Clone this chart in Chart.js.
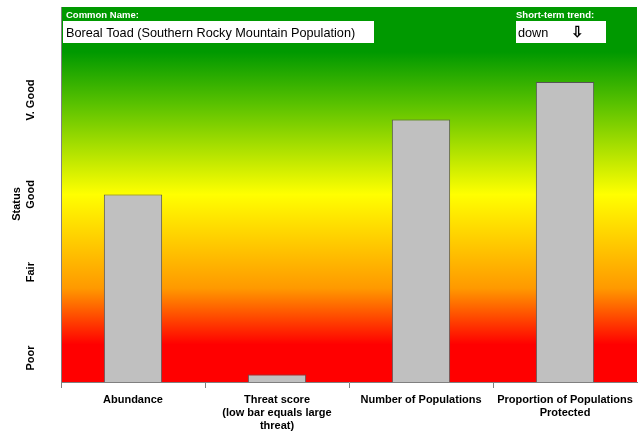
<!DOCTYPE html>
<html><head><meta charset="utf-8">
<script src="https://cdn.jsdelivr.net/npm/chart.js@4/dist/chart.umd.min.js"></script>
<style>html,body{margin:0;padding:0;background:#fff;}#wrap{width:643px;height:433px;}</style>
</head><body><div id="wrap"><canvas id="c" width="643" height="433"></canvas></div>
<script>
const categories = [["Abundance"], ["Threat score", "(low bar equals large", "threat)"], ["Number of Populations"], ["Proportion of Populations", "Protected"]];
const statusValues = [50, 2, 70, 80];
const statusTickValues = [6.4, 29.3, 50, 75.2];
const statusTickLabels = ["Poor", "Fair", "Good", "V. Good"];
const commonName = "Boreal Toad (Southern Rocky Mountain Population)";
const trendText = "down";
const trendArrow = "\u21E9";

const FONT = "'Liberation Sans', Arial, sans-serif";

const decor = {
  id: 'decor',
  beforeDraw(chart) {
    const {ctx, chartArea: a} = chart;
    const g = ctx.createLinearGradient(0, a.top, 0, a.bottom);
    g.addColorStop(0, '#009900');
    g.addColorStop(0.12, '#009900');
    g.addColorStop(0.26, '#5ac200');
    g.addColorStop(0.50, '#ffff00');
    g.addColorStop(0.75, '#ff9900');
    g.addColorStop(0.90, '#ff0000');
    g.addColorStop(1, '#ff0000');
    ctx.save();
    ctx.fillStyle = g;
    ctx.fillRect(a.left, a.top, a.right - a.left, a.bottom - a.top);
    ctx.restore();
  },
  afterDraw(chart) {
    const {ctx, chartArea: a} = chart;
    const y = chart.scales.y;
    ctx.save();
    ctx.strokeStyle = '#808080';
    ctx.lineWidth = 1;
    ctx.beginPath();
    ctx.moveTo(a.left + 0.5, a.top);
    ctx.lineTo(a.left + 0.5, a.bottom + 5);
    ctx.stroke();
    ctx.fillStyle = '#000';
    ctx.font = 'bold 11px ' + FONT;
    ctx.textAlign = 'center';
    ctx.textBaseline = 'middle';
    statusTickValues.forEach((v, i) => {
      const py = y.getPixelForValue(v);
      ctx.save();
      ctx.translate(31, py);
      ctx.rotate(-Math.PI / 2);
      ctx.fillText(statusTickLabels[i], 0, 0);
      ctx.restore();
    });
    ctx.save();
    ctx.translate(17, 204);
    ctx.rotate(-Math.PI / 2);
    ctx.fillText('Status', 0, 0);
    ctx.restore();
    ctx.textAlign = 'left';
    ctx.textBaseline = 'alphabetic';
    ctx.fillStyle = '#fff';
    ctx.font = 'bold 9.5px ' + FONT;
    ctx.fillText('Common Name:', 66, 18);
    ctx.fillText('Short-term trend:', 516, 18);
    ctx.fillRect(63, 21, 311, 22);
    ctx.fillRect(516, 21, 90, 22);
    ctx.fillStyle = '#000';
    ctx.font = '12.7px ' + FONT;
    ctx.fillText(commonName, 66, 37);
    ctx.fillText(trendText, 518, 37);
    ctx.font = 'bold 15px ' + FONT;
    ctx.fillText(trendArrow, 571, 37);
    ctx.restore();
  }
};

new Chart(document.getElementById('c'), {
  type: 'bar',
  data: {
    labels: categories,
    datasets: [{
      data: statusValues,
      backgroundColor: '#c0c0c0',
      borderColor: '#555555',
      borderWidth: 1,
      barPercentage: 0.405,
      categoryPercentage: 1
    }]
  },
  options: {
    responsive: false,
    animation: false,
    devicePixelRatio: 1,
    layout: { padding: { left: 61, right: 6, top: 7, bottom: 0 } },
    plugins: { legend: { display: false }, tooltip: { enabled: false } },
    scales: {
      x: {
        grid: {
          drawOnChartArea: false, drawTicks: true, tickLength: 6, offset: true,
          color: (c) => (c.tick ? '#808080' : 'rgba(0,0,0,0)')
        },
        border: { color: '#808080' },
        ticks: { color: '#000', font: { family: FONT, size: 11, weight: 'bold' }, padding: 5, maxRotation: 0, autoSkip: false },
        afterFit(s) { s.height = 51; }
      },
      y: {
        display: false,
        min: 0,
        max: 100
      }
    }
  },
  plugins: [decor]
});
</script>
</body></html>
